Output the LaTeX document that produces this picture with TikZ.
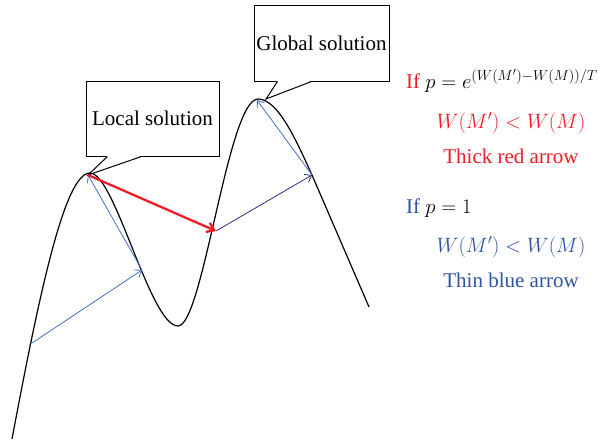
\documentclass[tikz,border=0pt]{standalone}
\usepackage{fontspec}
\setmainfont{Liberation Serif}
\usetikzlibrary{arrows.meta,positioning}

\definecolor{redline}{RGB}{237,28,36}
\definecolor{bluetext}{RGB}{46,84,163}
\definecolor{blueline}{RGB}{68,114,196}
\definecolor{navyline}{RGB}{40,45,130}

\begin{document}
\begin{tikzpicture}[
  x=1pt, y=-1pt,
  font=\fontsize{21}{25}\selectfont,
  curve/.style={line width=1.2pt, draw=black},
  callout/.style={
    draw=black,
    line width=1pt,
    fill=white,
    inner sep=0pt,
    align=center
  },
  thinmove/.style={-{Straight Barb[length=6pt,width=9pt]}, line width=0.8pt, draw=blueline},
  navymove/.style={-{Straight Barb[length=6pt,width=9pt]}, line width=0.8pt, draw=navyline},
  thickmove/.style={-{Straight Barb[length=7pt,width=10pt]}, line width=2.3pt, draw=redline},
  rule/.style={anchor=base west, inner sep=0pt},
  note/.style={anchor=base, inner sep=0pt}
]
\useasboundingbox (0,0) rectangle (605,442);

\coordinate (start) at (29,345);
\coordinate (peakA) at (88,175);
\coordinate (slopeA) at (142,270);
\coordinate (jump) at (216,231);
\coordinate (slopeB) at (312,175);
\coordinate (peakB) at (257,100);
\coordinate (tipB) at (266,99);

% fitness landscape
\draw[curve] (12,439) .. controls (40,290) and (65,173) .. (90,173)
  .. controls (115,173) and (150,326) .. (178,326)
  .. controls (203,326) and (228,99) .. (258,99)
  .. controls (278,99) and (296,140) .. (312,175) -- (369,307);

% callouts
\node[callout, minimum width=133, minimum height=75] (local) at (152.5,118.5) {Local solution};
\node[callout, minimum width=135, minimum height=76] (global) at (321.5,43) {Global solution};

\fill[white] ([xshift=22,yshift=0.7]local.south west) -- (peakA) -- ([xshift=56,yshift=0.7]local.south west) -- cycle;
\draw[line width=1pt] ([xshift=22]local.south west) -- (peakA) -- ([xshift=56]local.south west);
\fill[white] ([xshift=24,yshift=0.7]global.south west) -- (tipB) -- ([xshift=58,yshift=0.7]global.south west) -- cycle;
\draw[line width=1pt] ([xshift=24]global.south west) -- (tipB) -- ([xshift=58]global.south west);

% moves
\draw[thinmove] (start) -- (slopeA);
\draw[thinmove] (slopeA) -- (peakA);
\draw[thickmove] (peakA) -- (jump);
\draw[navymove] (jump) -- (slopeB);
\draw[thinmove] (slopeB) -- (peakB);

% acceptance rules
\node[rule] (ruleA) at (406,88) {\textcolor{redline}{If} $p=e^{(W(M')-W(M))/T}$};
\node[note, text=redline] (condA) at (511,128) {$W(M')<W(M)$};
\node[note, text=redline] (labelA) at (511,163) {Thick red arrow};
\node[rule] (ruleB) at (406,213) {\textcolor{bluetext}{If} $p=1$};
\node[note, text=bluetext] (condB) at (511,252) {$W(M')<W(M)$};
\node[note, text=bluetext] (labelB) at (511,287) {Thin blue arrow};

\end{tikzpicture}
\end{document}
